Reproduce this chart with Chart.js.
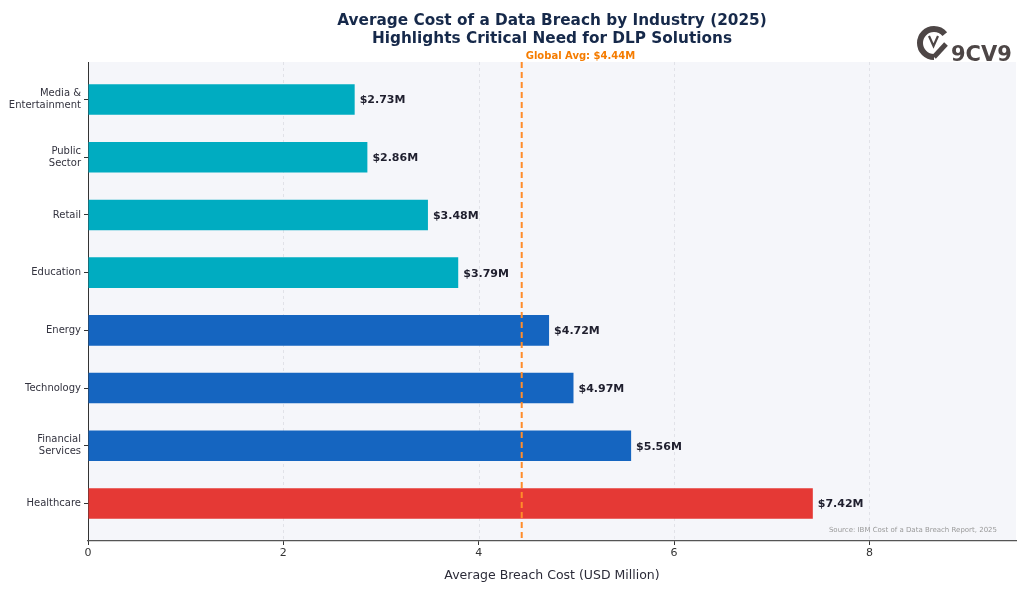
<!DOCTYPE html>
<html>
<head>
<meta charset="utf-8">
<script src="https://cdn.jsdelivr.net/npm/chart.js@4.4.1/dist/chart.umd.min.js"></script>
<style>
  html, body { margin: 0; padding: 0; background: #ffffff; }
  #wrap { width: 1024px; height: 589px; position: relative; }
</style>
</head>
<body>
<div id="wrap"><canvas id="c" width="1024" height="589"></canvas></div>
<script>
const industries = ["Media &\nEntertainment", "Public\nSector", "Retail", "Education", "Energy", "Technology", "Financial\nServices", "Healthcare"];
const costs = [2.73, 2.86, 3.48, 3.79, 4.72, 4.97, 5.56, 7.42];
const globalAvg = 4.44;
const xTicks = [0, 2, 4, 6, 8];
const titleLines = ["Average Cost of a Data Breach by Industry (2025)", "Highlights Critical Need for DLP Solutions"];
const xTitle = "Average Breach Cost (USD Million)";
const sourceText = "Source: IBM Cost of a Data Breach Report, 2025";
const avgLabel = "Global Avg: $" + globalAvg.toFixed(2) + "M";

const FONT = "'DejaVu Sans', sans-serif";
const maxCost = Math.max(...costs);
const barColors = costs.map(v => v === maxCost ? '#e53935' : (v > globalAvg ? '#1565c0' : '#00acc1'));

const decorPlugin = {
  id: 'decor',
  beforeDraw(chart) {
    const {ctx, chartArea: a} = chart;
    ctx.save();
    ctx.fillStyle = '#f5f6fa';
    ctx.fillRect(a.left, a.top, a.right - a.left, a.bottom - a.top);
    const xs = chart.scales.x;
    ctx.strokeStyle = '#dcdee4';
    ctx.lineWidth = 0.8;
    ctx.setLineDash([3, 3]);
    xTicks.forEach(t => {
      if (t === 0) return;
      const px = Math.round(xs.getPixelForValue(t)) + 0.5;
      ctx.beginPath();
      ctx.moveTo(px, a.top);
      ctx.lineTo(px, a.bottom);
      ctx.stroke();
    });
    ctx.restore();
  },
  afterDatasetsDraw(chart) {
    const {ctx, chartArea: a} = chart;
    const xs = chart.scales.x;
    ctx.save();
    const gx = xs.getPixelForValue(globalAvg);
    ctx.strokeStyle = '#ff8c2a';
    ctx.lineWidth = 2;
    ctx.setLineDash([6, 4]);
    ctx.beginPath();
    ctx.moveTo(gx, a.top);
    ctx.lineTo(gx, a.bottom);
    ctx.stroke();
    ctx.setLineDash([]);
    ctx.fillStyle = '#f57c00';
    ctx.font = "bold 10px " + FONT;
    ctx.textAlign = 'left';
    ctx.textBaseline = 'middle';
    ctx.fillText(avgLabel, gx + 4, 56);
    const meta = chart.getDatasetMeta(0);
    ctx.fillStyle = '#1f1f2e';
    ctx.font = "bold 11px " + FONT;
    meta.data.forEach((bar, i) => {
      ctx.fillText('$' + costs[i].toFixed(2) + 'M', bar.x + 5, bar.y + 1);
    });
    ctx.fillStyle = '#9a9a9a';
    ctx.font = "7px " + FONT;
    ctx.textAlign = 'right';
    ctx.fillText(sourceText, 997, 530);
    ctx.fillStyle = '#16294a';
    ctx.font = "bold 15.3px " + FONT;
    ctx.textAlign = 'center';
    const cx = (a.left + a.right) / 2;
    ctx.fillText(titleLines[0], cx, 21);
    ctx.fillText(titleLines[1], cx, 39);
    // logo
    ctx.strokeStyle = '#4d4646';
    ctx.lineCap = 'butt';
    ctx.lineWidth = 6;
    ctx.beginPath();
    ctx.arc(934, 43, 14, 0.5 * Math.PI, 1.78 * Math.PI, false);
    ctx.stroke();
    ctx.lineWidth = 5;
    ctx.beginPath();
    ctx.moveTo(934, 57); ctx.lineTo(946, 44);
    ctx.stroke();
    ctx.lineWidth = 2.2;
    ctx.beginPath();
    ctx.moveTo(929, 36); ctx.lineTo(933.5, 46); ctx.lineTo(938, 36);
    ctx.stroke();
    ctx.fillStyle = '#4d4646';
    ctx.font = "bold 21px " + FONT;
    ctx.textAlign = 'left';
    ctx.textBaseline = 'alphabetic';
    ctx.fillText('9CV9', 951, 61);
    ctx.restore();
  }
};

new Chart(document.getElementById('c'), {
  type: 'bar',
  data: {
    datasets: [{
      data: costs.map((v, i) => ({x: v, y: i})),
      backgroundColor: barColors,
      borderWidth: 0,
      barPercentage: 0.53,
      categoryPercentage: 1.0
    }]
  },
  options: {
    indexAxis: 'y',
    responsive: false,
    animation: false,
    devicePixelRatio: 1,
    layout: { padding: { top: 62, right: 8, left: 0, bottom: 0 } },
    plugins: { legend: { display: false }, tooltip: { enabled: false }, title: { display: false } },
    scales: {
      y: {
        type: 'linear',
        reverse: true,
        min: -0.65,
        max: 7.65,
        offset: false,
        afterBuildTicks(scale) { scale.ticks = industries.map((_, i) => ({value: i})); },
        afterFit(scale) { scale.width = 88; },
        ticks: {
          autoSkip: false,
          padding: 3,
          color: '#33333f',
          font: { family: FONT, size: 10, lineHeight: 1.2 },
          callback(value) { return Number.isInteger(value) && industries[value] ? industries[value].split('\n') : ''; }
        },
        grid: { display: true, drawOnChartArea: false, drawTicks: true, tickLength: 4, tickColor: '#333', offset: false },
        border: { display: true, color: '#333', width: 1 }
      },
      x: {
        type: 'linear',
        min: 0,
        max: 9.5,
        afterBuildTicks(scale) { scale.ticks = xTicks.map(v => ({value: v})); },
        afterFit(scale) { scale.height = 48; },
        ticks: { color: '#333', padding: 2, font: { family: FONT, size: 11 } },
        grid: { display: true, drawOnChartArea: false, drawTicks: true, tickLength: 4, tickColor: '#333' },
        border: { display: true, color: '#555', width: 1.2 },
        title: { display: true, text: xTitle, color: '#2b2b38', font: { family: FONT, size: 12.5 }, padding: { top: 3, bottom: 6 } }
      }
    }
  },
  plugins: [decorPlugin]
});
</script>
</body>
</html>
